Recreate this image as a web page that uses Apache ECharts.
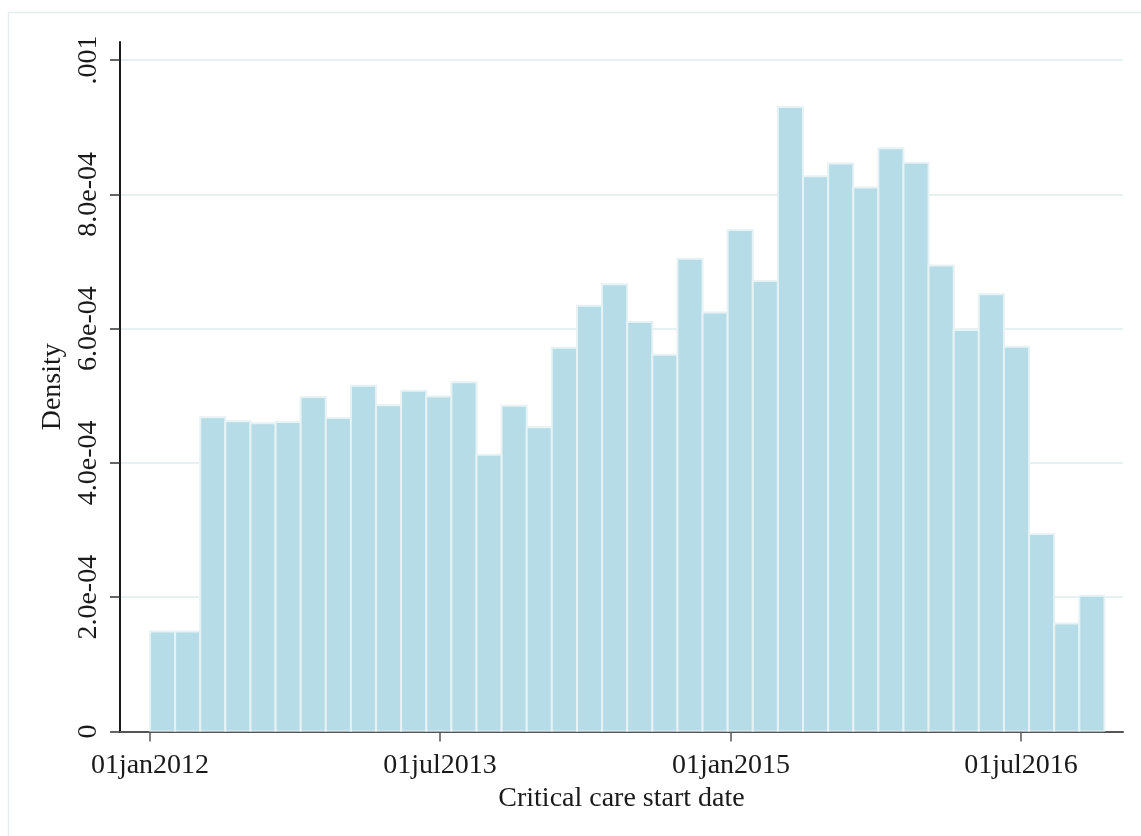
<!DOCTYPE html>
<html>
<head>
<meta charset="utf-8">
<script src="https://cdn.jsdelivr.net/npm/echarts@6/dist/echarts.min.js"></script>
<style>
  html, body { margin: 0; padding: 0; background: #ffffff; }
  #chart { width: 1141px; height: 836px; }
</style>
</head>
<body>
<div id="chart"></div>
<script>
// Days are counted from 01jan2012 (day 0)
const binStartDay = 0;
const binWidthDays = 47.38;
const densities = [
  1.49e-4, 1.49e-4, 4.68e-4, 4.62e-4, 4.59e-4, 4.61e-4, 4.98e-4, 4.67e-4,
  5.15e-4, 4.86e-4, 5.075e-4, 4.99e-4, 5.20e-4, 4.12e-4, 4.85e-4, 4.53e-4,
  5.715e-4, 6.34e-4, 6.66e-4, 6.10e-4, 5.61e-4, 7.04e-4, 6.24e-4, 7.47e-4,
  6.71e-4, 9.30e-4, 8.27e-4, 8.46e-4, 8.10e-4, 8.685e-4, 8.47e-4, 6.94e-4,
  5.98e-4, 6.51e-4, 5.73e-4, 2.94e-4, 1.61e-4, 2.02e-4
];
const xTickDays = [0, 547, 1096, 1643];
const xTickLabels = ['01jan2012', '01jul2013', '01jan2015', '01jul2016'];
const yTickValues = [0, 2e-4, 4e-4, 6e-4, 8e-4, 1e-3];
const yTickLabels = ['0', '2.0e-04', '4.0e-04', '6.0e-04', '8.0e-04', '.001'];

const binData = densities.map((d, i) => [
  binStartDay + i * binWidthDays,
  binStartDay + (i + 1) * binWidthDays,
  d
]);

const FONT = '"Liberation Serif", "DejaVu Serif", serif';
const FS = 28;
const chart = echarts.init(document.getElementById('chart'), null, { renderer: 'canvas' });

chart.setOption({
  backgroundColor: '#ffffff',
  animation: false,
  graphic: [{
    type: 'rect',
    left: 6, top: 10,
    shape: { width: 1160, height: 860 },
    style: { fill: 'none', stroke: '#e6eeef', lineWidth: 1.5 },
    silent: true,
    z: -10
  }],
  grid: { left: 120, right: 18, top: 42, bottom: 104.5, containLabel: false },
  xAxis: {
    type: 'value',
    min: -56.6,
    max: 1835.5,
    name: 'Critical care start date',
    nameLocation: 'middle',
    nameGap: 47,
    nameTextStyle: { fontFamily: FONT, fontSize: FS, color: '#1a1a1a' },
    axisLine: { show: true, onZero: false, lineStyle: { color: '#555555', width: 2 } },
    axisTick: { show: true, length: 10, customValues: xTickDays, lineStyle: { color: '#555555', width: 1.5 } },
    axisLabel: {
      customValues: xTickDays,
      margin: 20,
      fontFamily: FONT, fontSize: FS, color: '#1a1a1a',
      formatter: function (v) {
        const i = xTickDays.findIndex(t => Math.abs(t - v) < 0.5);
        return i >= 0 ? xTickLabels[i] : '';
      }
    },
    splitLine: { show: false }
  },
  yAxis: {
    type: 'value',
    min: 0,
    max: 1.0268e-3,
    name: 'Density',
    nameLocation: 'middle',
    nameGap: 51,
    nameTextStyle: { fontFamily: FONT, fontSize: FS, color: '#1a1a1a' },
    axisLine: { show: true, onZero: false, lineStyle: { color: '#1a1a1a', width: 2 } },
    axisTick: { show: true, length: 10, customValues: yTickValues, lineStyle: { color: '#333333', width: 1.5 } },
    axisLabel: {
      customValues: yTickValues,
      rotate: 90,
      margin: 17,
      fontFamily: FONT, fontSize: FS, color: '#1a1a1a',
      formatter: function (v) {
        const i = yTickValues.findIndex(t => Math.abs(t - v) < 1e-6);
        return i >= 0 ? yTickLabels[i] : '';
      }
    },
    splitLine: { show: true, lineStyle: { color: '#e8f1f2', width: 2 } }
  },
  series: [{
    type: 'custom',
    data: binData,
    encode: { x: [0, 1], y: 2 },
    clip: true,
    renderItem: function (params, api) {
      const top = api.coord([api.value(0), api.value(2)]);
      const bottom = api.coord([api.value(1), 0]);
      return {
        type: 'rect',
        shape: { x: top[0], y: top[1], width: bottom[0] - top[0], height: bottom[1] - top[1] },
        style: { fill: '#b6dce8', stroke: '#e6f2f4', lineWidth: 2 }
      };
    }
  }]
});
</script>
</body>
</html>
